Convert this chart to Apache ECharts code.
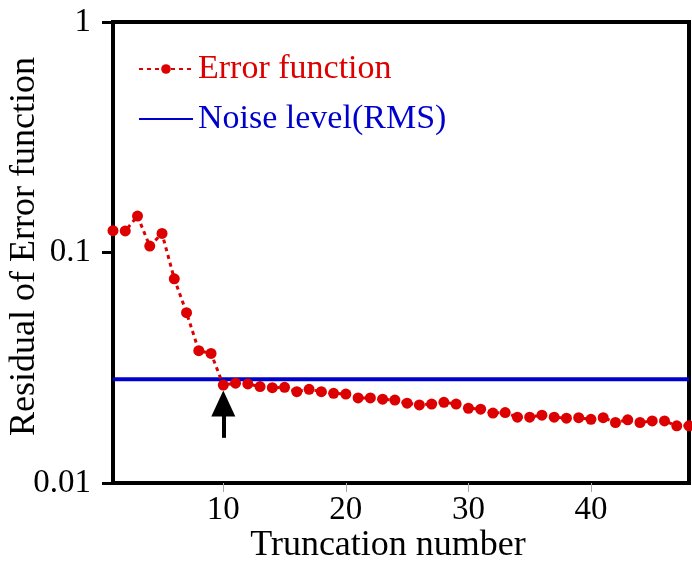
<!DOCTYPE html>
<html>
<head>
<meta charset="utf-8">
<script src="https://cdn.jsdelivr.net/npm/echarts@6/dist/echarts.min.js"></script>
<style>
  html, body { margin: 0; padding: 0; background: #fff; }
  #chart { width: 692px; height: 563px; }
</style>
</head>
<body>
<div id="chart"></div>
<script>
// Residual of the error function versus truncation number (log scale)
const errorResidual = [
  0.1244, 0.1240, 0.1439, 0.1066, 0.1210, 0.0769, 0.0548, 0.0375, 0.0365, 0.0266,
  0.0271, 0.0269, 0.0262, 0.0259, 0.0260, 0.0249, 0.0255, 0.0249, 0.0245, 0.0243,
  0.0234, 0.0234, 0.0231, 0.0229, 0.0222, 0.0218, 0.0220, 0.0224, 0.0220, 0.0211,
  0.0209, 0.0201, 0.0202, 0.0193, 0.0193, 0.0197, 0.0193, 0.0191, 0.0192, 0.0189,
  0.0192, 0.0183, 0.0188, 0.0183, 0.0186, 0.0186, 0.0177, 0.0177
];
const truncationNumbers = errorResidual.map((_, i) => i + 1);
const noiseLevelRMS = 0.0282;
const xRange = [1, 48];
const xTickValues = [10, 20, 30, 40];
const yTickLabels = ['0.01', '0.1', '1'];
// arrow marking the chosen truncation number
const arrowX = 10;
const arrowFrom = 0.0157;
const arrowTo = 0.0221;

const serif = '"Liberation Serif", "DejaVu Serif", serif';
const red = '#dd0000';
const blue = '#0000cc';

const chart = echarts.init(document.getElementById('chart'));
chart.setOption({
  animation: false,
  backgroundColor: '#fff',
  grid: {
    left: 113, right: 3, top: 22, bottom: 80,
    outerBoundsMode: 'none',
    containLabel: false,
    show: true, borderColor: '#000', borderWidth: 4, backgroundColor: 'transparent'
  },
  legend: {
    orient: 'vertical',
    left: 133, top: 47,
    itemWidth: 54, itemHeight: 12, itemGap: 16,
    textStyle: { fontFamily: serif, fontSize: 34, padding: [0, 0, 0, 0] },
    data: [
      { name: 'Error function', textStyle: { color: red } },
      { name: 'Noise level(RMS)', textStyle: { color: blue }, itemStyle: { opacity: 0 } }
    ]
  },
  xAxis: {
    type: 'value',
    min: xRange[0], max: xRange[1],
    name: 'Truncation number',
    nameLocation: 'middle',
    nameGap: 45,
    nameMoveOverlap: false,
    nameTextStyle: { fontFamily: serif, fontSize: 36, color: '#000', padding: [0, 26, 0, 0] },
    axisLine: { show: false },
    splitLine: { show: false },
    axisTick: { show: true, length: 9, customValues: xTickValues, lineStyle: { color: '#aaa', width: 1 } },
    axisLabel: { customValues: xTickValues, fontFamily: serif, fontSize: 33, color: '#000', margin: 11 }
  },
  yAxis: {
    type: 'log', logBase: 10,
    min: 0.01, max: 1,
    name: 'Residual of Error function',
    nameLocation: 'middle',
    nameGap: 70,
    nameMoveOverlap: false,
    nameTextStyle: { fontFamily: serif, fontSize: 36, color: '#000', padding: [0, 0, 0, 12] },
    axisLine: { show: false },
    splitLine: { show: false },
    axisTick: { show: true, length: 11, lineStyle: { color: '#000', width: 3 } },
    axisLabel: {
      fontFamily: serif, fontSize: 33, color: '#000', margin: 22,
      formatter: v => {
        const s = String(Number(v.toPrecision(3)));
        return yTickLabels.includes(s) ? s : '';
      }
    }
  },
  series: [
    {
      name: 'Error function',
      type: 'line',
      data: truncationNumbers.map((n, i) => [n, errorResidual[i]]),
      symbol: 'circle',
      symbolSize: 11,
      clip: false,
      color: red,
      itemStyle: { color: red },
      lineStyle: { color: red, width: 3, type: [4, 4] },
      z: 3,
      markLine: {
        silent: true,
        symbol: ['none', 'triangle'],
        symbolSize: [24, 26],
        label: { show: false },
        lineStyle: { color: '#000', width: 4, type: 'solid' },
        data: [[{ coord: [arrowX, arrowFrom] }, { coord: [arrowX, arrowTo] }]]
      }
    },
    {
      name: 'Noise level(RMS)',
      type: 'line',
      data: [[xRange[0], noiseLevelRMS], [xRange[1], noiseLevelRMS]],
      symbol: 'none',
      color: blue,
      lineStyle: { color: blue, width: 4 },
      z: 2
    }
  ]
});
</script>
</body>
</html>
